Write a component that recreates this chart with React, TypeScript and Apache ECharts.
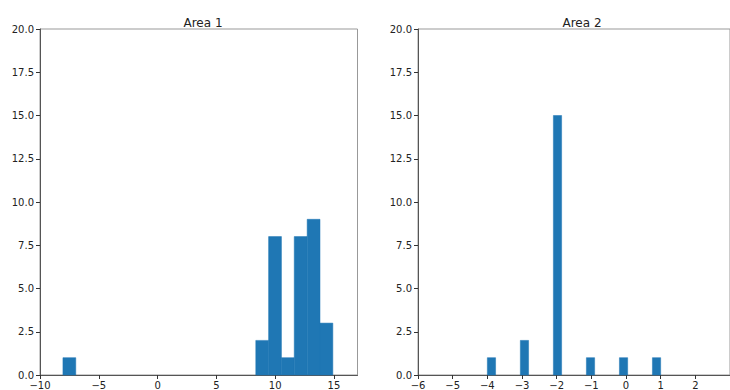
import React, { useEffect, useRef } from "react";
import * as echarts from "echarts";

// Area 1 histogram (21 bins)
const area1BinStarts = [-8.05, 8.35, 9.44, 10.53, 11.62, 12.72, 13.81];
const area1BinWidth = 1.092;
const area1Counts = [1, 2, 8, 1, 8, 9, 3];

// Area 2 histogram (21 bins)
const area2BinStarts = [-4.0, -3.048, -2.095, -1.143, -0.19, 0.762];
const area2BinWidth = 0.238;
const area2Counts = [1, 2, 15, 1, 1, 1];

const area1XTicks = [-10, -5, 0, 5, 10, 15];
const area2XTicks = [-6, -5, -4, -3, -2, -1, 0, 1, 2];
const titles = ["Area 1", "Area 2"];

const FONT = "DejaVu Sans";
const BAR = "#1f77b4";

function fmtX(v: number) {
  return String(v).replace("-", "\u2212");
}

function buildData(starts: number[], width: number, counts: number[]) {
  return starts.map((s, i) => [s, s + width, counts[i]]);
}

const renderBar = (params: any, api: any) => {
  const p0 = api.coord([api.value(0), 0]);
  const p1 = api.coord([api.value(1), api.value(2)]);
  return {
    type: "rect",
    shape: { x: p0[0], y: p1[1], width: p1[0] - p0[0], height: p0[1] - p1[1] },
    style: { fill: BAR, stroke: BAR, lineWidth: 0.5 },
  };
};

export default function App() {
  const ref = useRef<HTMLDivElement>(null);
  useEffect(() => {
    if (!ref.current) return;
    const chart = echarts.init(ref.current, null, { renderer: "svg" });
    const xAxisCommon = (min: number, max: number, ticks: number[], idx: number) => ({
      type: "value",
      gridIndex: idx,
      min,
      max,
      splitLine: { show: false },
      axisLine: { show: true, onZero: false, lineStyle: { color: "#555", width: 1 } },
      axisTick: { show: true, length: 4, customValues: ticks, lineStyle: { color: "#333" } },
      axisLabel: {
        customValues: ticks,
        formatter: (v: number) => fmtX(v),
        margin: 5,
        fontFamily: FONT,
        fontSize: 10,
        color: "#222",
      },
    });
    const yAxisCommon = (idx: number) => ({
      type: "value",
      gridIndex: idx,
      min: 0,
      max: 20,
      interval: 2.5,
      splitLine: { show: false },
      axisLine: { show: true, onZero: false, lineStyle: { color: "#555", width: 1 } },
      axisTick: { show: true, length: 4, lineStyle: { color: "#333" } },
      axisLabel: {
        formatter: (v: number) => v.toFixed(1),
        margin: 6,
        fontFamily: FONT,
        fontSize: 10,
        color: "#222",
      },
    });
    chart.setOption({
      animation: false,
      backgroundColor: "#fff",
      title: [
        {
          text: titles[0],
          left: 198,
          top: 12,
          textAlign: "center",
          textStyle: { fontFamily: FONT, fontSize: 12, fontWeight: "normal", color: "#222" },
        },
        {
          text: titles[1],
          left: 577,
          top: 12,
          textAlign: "center",
          textStyle: { fontFamily: FONT, fontSize: 12, fontWeight: "normal", color: "#222" },
        },
      ],
      grid: [
        { left: 40, top: 29, width: 317.5, height: 347, show: true, borderColor: "#999", borderWidth: 1 },
        { left: 418, top: 29, width: 318, height: 347, show: true, borderColor: "#999", borderWidth: 1 },
      ],
      xAxis: [xAxisCommon(-10, 17, area1XTicks, 0), xAxisCommon(-6, 3, area2XTicks, 1)],
      yAxis: [yAxisCommon(0), yAxisCommon(1)],
      series: [
        {
          type: "custom",
          xAxisIndex: 0,
          yAxisIndex: 0,
          renderItem: renderBar,
          encode: { x: [0, 1], y: 2 },
          data: buildData(area1BinStarts, area1BinWidth, area1Counts),
        },
        {
          type: "custom",
          xAxisIndex: 1,
          yAxisIndex: 1,
          renderItem: renderBar,
          encode: { x: [0, 1], y: 2 },
          data: buildData(area2BinStarts, area2BinWidth, area2Counts),
        },
      ],
    });
    return () => chart.dispose();
  }, []);
  return (
    <div
      ref={ref}
      style={{ position: "fixed", left: 0, top: 0, width: 730, height: 390, background: "#fff" }}
    />
  );
}
